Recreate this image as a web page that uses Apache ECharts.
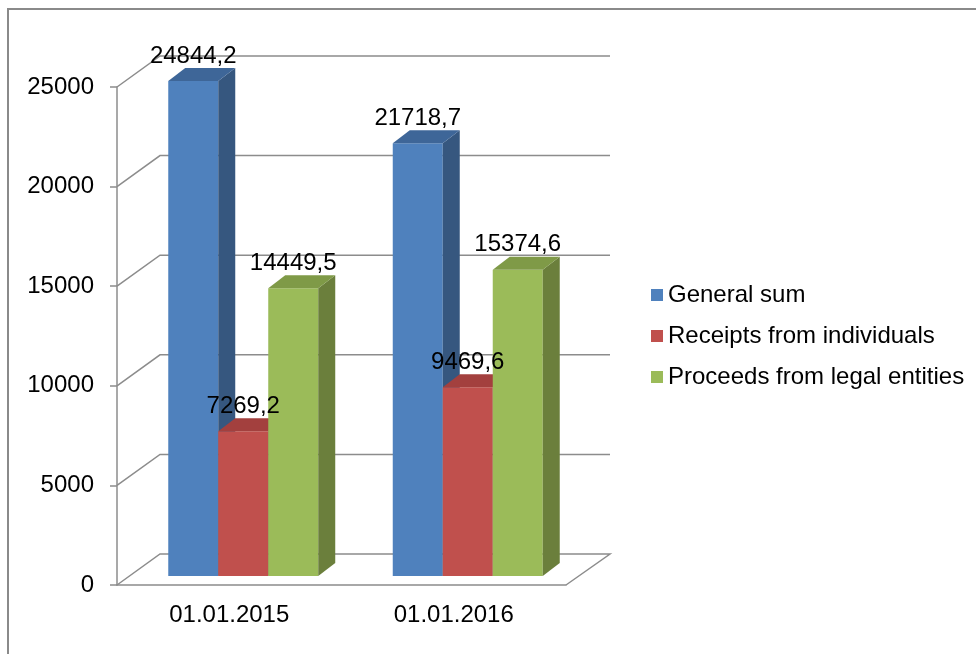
<!DOCTYPE html>
<html>
<head>
<meta charset="utf-8">
<script src="https://cdn.jsdelivr.net/npm/echarts@6/dist/echarts.min.js"></script>
<style>
  html, body { margin: 0; padding: 0; background: #fff; }
  #main { width: 976px; height: 654px; }
</style>
</head>
<body>
<div id="main"></div>
<script>
var categories = ['01.01.2015', '01.01.2016'];
var generalSum = [24844.2, 21718.7];
var individuals = [7269.2, 9469.6];
var legalEntities = [14449.5, 15374.6];
var seriesNames = ['General sum', 'Receipts from individuals', 'Proceeds from legal entities'];
var gridValues = [0, 5000, 10000, 15000, 20000, 25000];

var myChart = echarts.init(document.getElementById('main'));

var FONT = '"Liberation Sans", Arial, sans-serif';
var colors = ['#4F81BD', '#C0504D', '#9BBB59'];
var sideColors = ['#36577f', '#87393a', '#6b7f3c'];
var topColors = ['#3e6698', '#a3403e', '#7f9a47'];
var lineColor = '#8c8c8c';

// 3d look: wall depth and bar depth in px
var wallDx = 43, wallDy = 31;
var barShiftX = 14, barShiftY = 9;
var barDx = 17, barDy = 13;

function fmt(v) {
  return v.toFixed(1).replace('.', ',');
}

// front face box of bar idx
function barBox(idx, api) {
  var cat = api.value(0);
  var val = api.value(1);
  var base = api.coord([cat, 0]);
  var topPt = api.coord([cat, val]);
  var band = api.size([1, 0])[0];
  var w = band * 0.2227;
  var l = base[0] - 1.5 * w + idx * w + barShiftX;
  return { l: l, r: l + w, w: w, bottom: base[1] - barShiftY, top: topPt[1] - barShiftY, val: val };
}

function barRender(idx) {
  return function(params, api) {
    var b = barBox(idx, api);
    return {
      type: 'group',
      children: [
        {
          type: 'rect',
          shape: { x: b.l, y: b.top, width: b.w, height: b.bottom - b.top },
          style: { fill: colors[idx] }
        },
        {
          type: 'polygon',
          shape: { points: [[b.r, b.top], [b.r + barDx, b.top - barDy], [b.r + barDx, b.bottom - barDy], [b.r, b.bottom]] },
          style: { fill: sideColors[idx] }
        },
        {
          type: 'polygon',
          shape: { points: [[b.l, b.top], [b.l + barDx, b.top - barDy], [b.r + barDx, b.top - barDy], [b.r, b.top]] },
          style: { fill: topColors[idx] }
        }
      ]
    };
  };
}

function labelRender(idx) {
  return function(params, api) {
    var b = barBox(idx, api);
    return {
      type: 'text',
      style: {
        text: fmt(b.val),
        x: (b.l + b.r) / 2,
        y: b.top - 25,
        align: 'center',
        verticalAlign: 'middle',
        fill: '#000',
        font: '24px ' + FONT
      }
    };
  };
}

function wallRender(params, api) {
  var v = api.value(1);
  var y = api.coord([0, v])[1];
  var cs = params.coordSys;
  var x0 = cs.x;
  var x1 = cs.x + cs.width;
  var pts = [[x0, y], [x0 + wallDx, y - wallDy], [x1 + wallDx + 1, y - wallDy]];
  if (v === 0) {
    pts.push([x1, y]);
  }
  return {
    type: 'polyline',
    shape: { points: pts },
    style: { stroke: lineColor, lineWidth: 1.5, fill: null }
  };
}

function toData(arr) {
  return arr.map(function(v, i) { return [i, v]; });
}

var allValues = [generalSum, individuals, legalEntities];

var series = [{
  type: 'custom',
  name: 'wall',
  z: 1,
  silent: true,
  renderItem: wallRender,
  data: gridValues.map(function(v) { return [0, v]; })
}];

allValues.forEach(function(vals, idx) {
  series.push({
    type: 'custom',
    name: seriesNames[idx],
    z: 2 + idx,
    itemStyle: { color: colors[idx] },
    renderItem: barRender(idx),
    data: toData(vals)
  });
});

// labels on top of every bar
allValues.forEach(function(vals, idx) {
  series.push({
    type: 'custom',
    name: 'label' + idx,
    z: 10,
    silent: true,
    renderItem: labelRender(idx),
    data: toData(vals)
  });
});

option = {
  animation: false,
  backgroundColor: '#fff',
  textStyle: { fontFamily: FONT },
  graphic: [{
    type: 'rect',
    shape: { x: 8, y: 9, width: 1000, height: 700 },
    style: { fill: null, stroke: '#8a8a8a', lineWidth: 2 },
    silent: true
  }],
  grid: {
    left: 117,
    right: 410,
    top: 87,
    bottom: 69
  },
  legend: {
    orient: 'vertical',
    left: 646,
    top: 278,
    data: seriesNames,
    icon: 'rect',
    itemWidth: 12,
    itemHeight: 12,
    itemGap: 17,
    textStyle: { fontSize: 24, color: '#000', fontFamily: FONT, lineHeight: 24 }
  },
  xAxis: {
    type: 'category',
    data: categories,
    axisLine: { lineStyle: { color: lineColor, width: 1.5 } },
    axisTick: { length: 7, lineStyle: { color: lineColor, width: 1.5 } },
    axisLabel: { fontSize: 24, color: '#000', margin: 18, fontFamily: FONT },
    splitLine: { show: false }
  },
  yAxis: {
    type: 'value',
    min: 0,
    max: 25000,
    interval: 5000,
    axisLine: { show: true, lineStyle: { color: lineColor, width: 1.5 } },
    axisTick: { show: true, length: 7, lineStyle: { color: lineColor, width: 1.5 } },
    axisLabel: {
      fontSize: 24, color: '#000', margin: 23, fontFamily: FONT,
      formatter: function(v) { return String(v); }
    },
    splitLine: { show: false }
  },
  series: series
};

myChart.setOption(option);
</script>
</body>
</html>
